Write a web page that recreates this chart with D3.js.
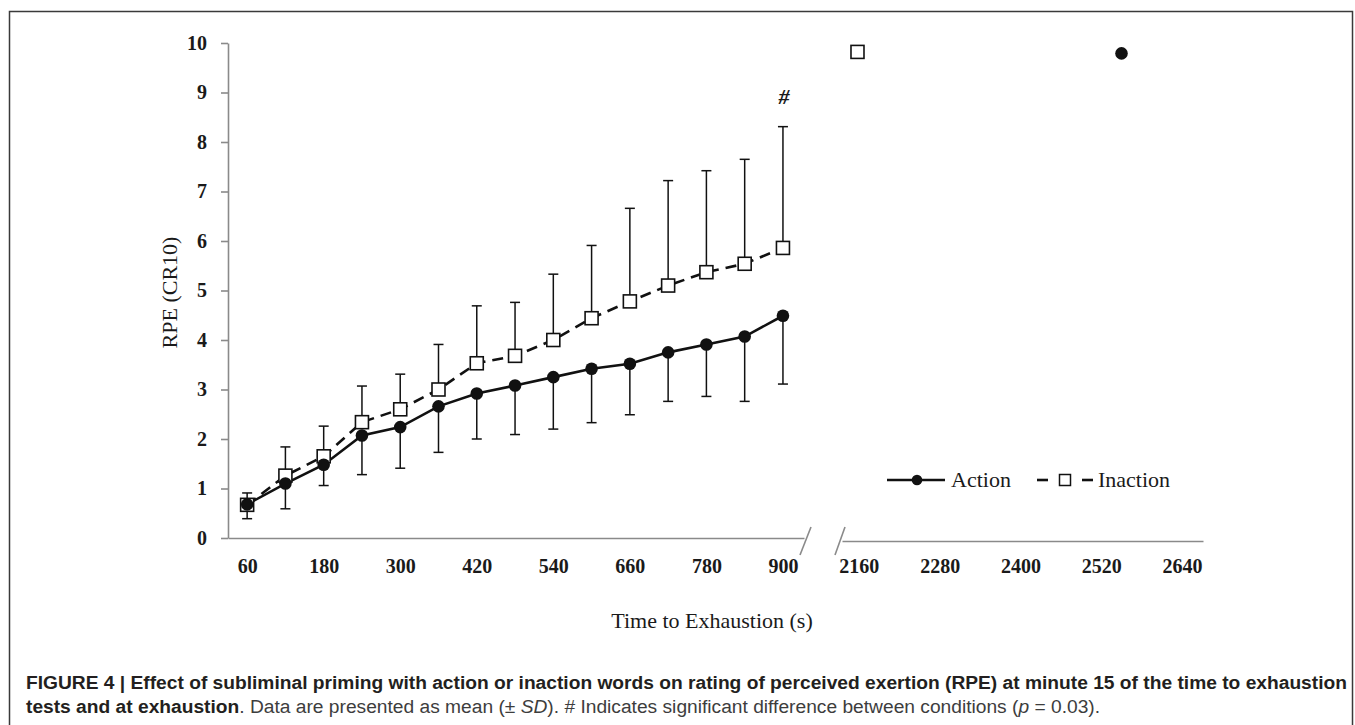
<!DOCTYPE html>
<meta charset="utf-8">
<script src="https://d3js.org/d3.v7.min.js"></script>
<style>
  body { margin: 0; background: #fff; }
</style>
<div id="d3-viz-container"></div>
<script>
// time points (s) in the first 15 minutes
const times = [60, 120, 180, 240, 300, 360, 420, 480, 540, 600, 660, 720, 780, 840, 900];

// Action condition: mean and mean - SD
const actionMean = [0.68, 1.10, 1.48, 2.07, 2.24, 2.66, 2.92, 3.08, 3.25, 3.42, 3.52, 3.75, 3.91, 4.07, 4.49];
const actionLower = [0.39, 0.59, 1.06, 1.28, 1.41, 1.73, 2.00, 2.09, 2.20, 2.33, 2.49, 2.76, 2.86, 2.76, 3.11];

// Inaction condition: mean and mean + SD
const inactionMean = [0.67, 1.26, 1.65, 2.34, 2.60, 3.00, 3.53, 3.68, 4.00, 4.44, 4.78, 5.10, 5.37, 5.54, 5.86];
const inactionUpper = [0.91, 1.84, 2.26, 3.07, 3.31, 3.91, 4.69, 4.76, 5.33, 5.91, 6.66, 7.22, 7.42, 7.65, 8.31];

// values at exhaustion
const exhaustConditions = ["Action", "Inaction"];
const exhaustTimes = [2550, 2158];
const exhaustRPE = [9.79, 9.82];

// tick labels
const yTicks = [0, 1, 2, 3, 4, 5, 6, 7, 8, 9, 10];
const xTicksLeft = [60, 180, 300, 420, 540, 660, 780, 900];
const xTicksRight = [2160, 2280, 2400, 2520, 2640];

const width = 1355, height = 725;
const serif = "'Liberation Serif', 'Times New Roman', serif";
const sans = "'Liberation Sans', Arial, Helvetica, sans-serif";
const axisColor = "#8a8a8a";

const svg = d3.select("#d3-viz-container")
    .append("svg")
    .attr("width", width)
    .attr("height", height);

// frame around the figure
svg.append("rect")
    .attr("x", 9.5)
    .attr("y", 11.5)
    .attr("width", 1343)
    .attr("height", 760)
    .attr("fill", "none")
    .attr("stroke", "#3a3a3a")
    .attr("stroke-width", 1.5);

// scales
const y = d3.scaleLinear().domain([0, 10]).range([538, 43]);
const xLeft = d3.scaleLinear().domain([30, 933]).range([228, 804]);
const xRight = d3.scaleLinear().domain([2135, 2671]).range([842, 1203]);
const axisYLeft = y(0);
const axisYRight = y(0) + 3;

// Y axis
const yAxis = svg.append("g")
    .attr("transform", `translate(${xLeft(30)},0)`)
    .call(d3.axisLeft(y).tickValues(yTicks).tickSize(7).tickSizeOuter(0).tickPadding(14));

// X axis, left part
const xAxisL = svg.append("g")
    .attr("transform", `translate(0,${axisYLeft})`)
    .call(d3.axisBottom(xLeft).tickValues(xTicksLeft).tickFormat(d3.format("d")).tickSize(0).tickPadding(21));

// X axis, right part
const xAxisR = svg.append("g")
    .attr("transform", `translate(0,${axisYRight})`)
    .call(d3.axisBottom(xRight).tickValues(xTicksRight).tickFormat(d3.format("d")).tickSize(0).tickPadding(18));

[yAxis, xAxisL, xAxisR].forEach(g => {
    g.select(".domain").attr("stroke", axisColor).attr("stroke-width", 1.6);
    g.selectAll(".tick line").attr("stroke", axisColor).attr("stroke-width", 1.6);
    g.selectAll(".tick text")
        .attr("fill", "#1a1a1a")
        .style("font-family", serif)
        .style("font-size", "20px")
        .style("font-weight", "bold");
});

// axis break marks
const breakL = xLeft.range()[1];
const breakR = xRight.range()[0];
svg.append("line")
    .attr("x1", breakL - 4).attr("y1", axisYLeft + 17)
    .attr("x2", breakL + 7).attr("y2", axisYLeft - 11)
    .attr("stroke", axisColor).attr("stroke-width", 1.6);
svg.append("line")
    .attr("x1", breakR - 7).attr("y1", axisYRight + 14)
    .attr("x2", breakR + 3).attr("y2", axisYRight - 14)
    .attr("stroke", axisColor).attr("stroke-width", 1.6);

// axis titles
svg.append("text")
    .attr("transform", `translate(177,${(y(0) + y(10)) / 2 + 2}) rotate(-90)`)
    .attr("text-anchor", "middle")
    .style("font-family", serif)
    .style("font-size", "22px")
    .attr("fill", "#1a1a1a")
    .text("RPE (CR10)");

svg.append("text")
    .attr("x", 712)
    .attr("y", 628)
    .attr("text-anchor", "middle")
    .style("font-family", serif)
    .style("font-size", "22px")
    .attr("fill", "#1a1a1a")
    .text("Time to Exhaustion (s)");

// build point lists
const action = times.map((t, i) => ({ t: t, m: actionMean[i], e: actionLower[i] }));
const inaction = times.map((t, i) => ({ t: t, m: inactionMean[i], e: inactionUpper[i] }));

// error bars (action down, inaction up)
const bars = svg.append("g").attr("stroke", "#111").attr("stroke-width", 1.5);
[action, inaction].forEach(series => {
    series.forEach(d => {
        bars.append("line")
            .attr("x1", xLeft(d.t)).attr("x2", xLeft(d.t))
            .attr("y1", y(d.m)).attr("y2", y(d.e));
        bars.append("line")
            .attr("x1", xLeft(d.t) - 5).attr("x2", xLeft(d.t) + 5)
            .attr("y1", y(d.e)).attr("y2", y(d.e));
    });
});

const line = d3.line()
    .x(d => xLeft(d.t))
    .y(d => y(d.m));

// Inaction dashed line
svg.append("path")
    .datum(inaction)
    .attr("d", line)
    .attr("fill", "none")
    .attr("stroke", "#111")
    .attr("stroke-width", 2.6)
    .attr("stroke-dasharray", "11,7");

// Action solid line
svg.append("path")
    .datum(action)
    .attr("d", line)
    .attr("fill", "none")
    .attr("stroke", "#111")
    .attr("stroke-width", 2.6);

// Inaction squares
svg.append("g")
    .selectAll("rect")
    .data(inaction)
    .join("rect")
    .attr("x", d => xLeft(d.t) - 6.5)
    .attr("y", d => y(d.m) - 6.5)
    .attr("width", 13)
    .attr("height", 13)
    .attr("fill", "#fff")
    .attr("stroke", "#111")
    .attr("stroke-width", 1.6);

// Action circles
svg.append("g")
    .selectAll("circle")
    .data(action)
    .join("circle")
    .attr("cx", d => xLeft(d.t))
    .attr("cy", d => y(d.m))
    .attr("r", 6.3)
    .attr("fill", "#111");

// significance mark
const last = inaction[inaction.length - 1];
svg.append("text")
    .attr("x", xLeft(last.t) + 1)
    .attr("y", y(last.e) - 23)
    .attr("text-anchor", "middle")
    .style("font-family", serif)
    .style("font-size", "22px")
    .style("font-weight", "bold")
    .style("font-style", "italic")
    .attr("fill", "#1a1a1a")
    .text("#");

// values at exhaustion
exhaustConditions.forEach((c, i) => {
    const cx = xRight(exhaustTimes[i]), cy = y(exhaustRPE[i]);
    if (c === "Action") {
        svg.append("circle")
            .attr("cx", cx).attr("cy", cy).attr("r", 6.3)
            .attr("fill", "#111");
    } else {
        svg.append("rect")
            .attr("x", cx - 6.5).attr("y", cy - 6.5)
            .attr("width", 13).attr("height", 13)
            .attr("fill", "#fff").attr("stroke", "#111").attr("stroke-width", 1.6);
    }
});

// legend
const legend = svg.append("g").attr("transform", "translate(887,480)");
legend.append("line")
    .attr("x1", 0).attr("x2", 58).attr("y1", 0).attr("y2", 0)
    .attr("stroke", "#111").attr("stroke-width", 2.6);
legend.append("circle")
    .attr("cx", 30).attr("cy", 0).attr("r", 5.3)
    .attr("fill", "#111");
legend.append("text")
    .attr("x", 64).attr("y", 7)
    .style("font-family", serif)
    .style("font-size", "22px")
    .attr("fill", "#1a1a1a")
    .text("Action");

legend.append("line")
    .attr("x1", 150).attr("x2", 161).attr("y1", 0).attr("y2", 0)
    .attr("stroke", "#111").attr("stroke-width", 2.6);
legend.append("rect")
    .attr("x", 172.5).attr("y", -5.5).attr("width", 11).attr("height", 11)
    .attr("fill", "#fff").attr("stroke", "#111").attr("stroke-width", 1.5);
legend.append("line")
    .attr("x1", 195).attr("x2", 206).attr("y1", 0).attr("y2", 0)
    .attr("stroke", "#111").attr("stroke-width", 2.6);
legend.append("text")
    .attr("x", 211).attr("y", 7)
    .style("font-family", serif)
    .style("font-size", "22px")
    .attr("fill", "#1a1a1a")
    .text("Inaction");

// caption
const cap1 = svg.append("text")
    .attr("x", 26).attr("y", 689)
    .style("font-family", sans)
    .style("font-size", "16px")
    .style("font-weight", "bold")
    .attr("fill", "#231f20")
    .text("FIGURE 4 | Effect of subliminal priming with action or inaction words on rating of perceived exertion (RPE) at minute 15 of the time to exhaustion");

// fit the first caption line to the frame width
const capSize = 16 * 1322 / cap1.node().getComputedTextLength();
cap1.style("font-size", capSize + "px");

const cap2 = svg.append("text")
    .attr("x", 26).attr("y", 713)
    .style("font-family", sans)
    .style("font-size", capSize + "px")
    .attr("fill", "#3d3d3d");
cap2.append("tspan").style("font-weight", "bold").attr("fill", "#231f20").text("tests and at exhaustion");
cap2.append("tspan").text(". Data are presented as mean (\u00b1 ");
cap2.append("tspan").style("font-style", "italic").text("SD");
cap2.append("tspan").text("). # Indicates significant difference between conditions (");
cap2.append("tspan").style("font-style", "italic").text("p");
cap2.append("tspan").text(" = 0.03).");
</script>
